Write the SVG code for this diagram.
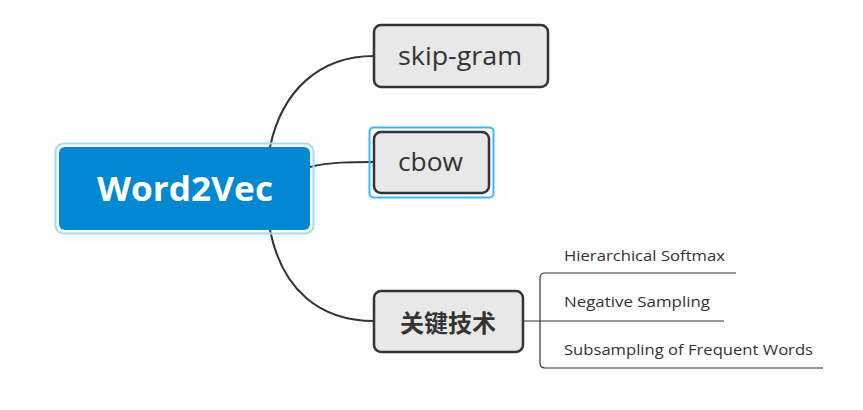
<svg xmlns="http://www.w3.org/2000/svg" width="863" height="410" viewBox="0 0 863 410">
<style>
.node rect.box{fill:#e8e8e8;stroke:#333;stroke-width:2.5}
.lbl{font-family:"Open Sans","Noto Sans CJK SC",sans-serif;fill:#333;text-anchor:middle;dominant-baseline:central}
.sub{font-family:"Open Sans",sans-serif;fill:#333;font-size:15px}
.conn path{fill:none;stroke:#333;stroke-width:2}
.conn .thin{stroke-width:1.2}
</style>
<rect width="863" height="410" fill="#fff"/>
<g class="conn">
<path d="M270,147 C282,90 320,56 374,56"/>
<path d="M310,167 C330,162 350,162 374,162"/>
<path d="M270,230 C282,290 320,321 374,321"/>
<path class="thin" d="M523,321 H724"/>
<path class="thin" d="M736,273 H545 Q540,273 540,278 V363 Q540,368 545,368 H823"/>
</g>
<g id="root">
<rect x="55.5" y="143.5" width="258" height="90" rx="8" fill="none" stroke="#9fdbfb" stroke-width="2"/>
<rect x="59" y="147" width="251" height="83" rx="6" fill="#0288d1"/>
<text class="lbl" x="185" y="188" font-size="34" font-weight="bold" textLength="176" lengthAdjust="spacingAndGlyphs" style="fill:#fff">Word2Vec</text>
</g>
<g id="skipgram" class="node">
<rect class="box" x="374" y="25" width="174" height="62" rx="7"/>
<text class="lbl" x="460" y="55" font-size="25" textLength="124" lengthAdjust="spacingAndGlyphs">skip-gram</text>
</g>
<g id="cbow" class="node">
<rect x="369.5" y="127.5" width="124" height="70" rx="4" fill="none" stroke="#33bbf5" stroke-width="2"/>
<rect class="box" x="374" y="132" width="115" height="61" rx="7"/>
<text class="lbl" x="430.5" y="161" font-size="25" textLength="65" lengthAdjust="spacingAndGlyphs">cbow</text>
</g>
<g id="keytech" class="node">
<rect class="box" x="374" y="291" width="149" height="61" rx="7"/>
<text class="lbl" x="448" y="322" font-size="24" font-weight="bold">关键技术</text>
</g>
<g id="hs"><text class="sub" x="564" y="261" textLength="161" lengthAdjust="spacingAndGlyphs">Hierarchical Softmax</text></g>
<g id="ns"><text class="sub" x="564" y="307" textLength="146" lengthAdjust="spacingAndGlyphs">Negative Sampling</text></g>
<g id="ss"><text class="sub" x="564" y="355" textLength="249" lengthAdjust="spacingAndGlyphs">Subsampling of Frequent Words</text></g>
</svg>
